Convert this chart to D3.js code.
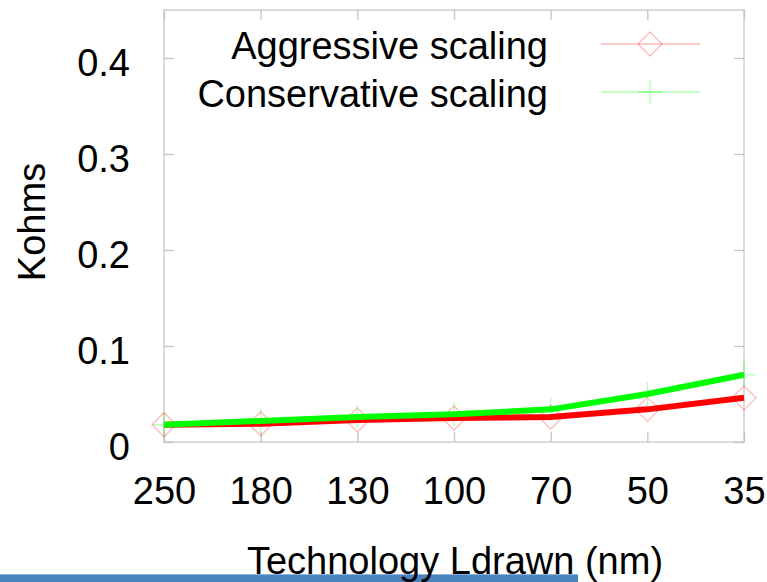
<!DOCTYPE html>
<html>
<head>
<meta charset="utf-8">
<script src="https://cdn.jsdelivr.net/npm/d3@7"></script>
<style>
  html, body { margin: 0; padding: 0; background: #ffffff; }
  svg { display: block; font-family: "Liberation Sans", Arial, sans-serif; }
</style>
</head>
<body>
<svg id="chart" width="767" height="582"></svg>
<script>
// Technology nodes (nm) along the x axis
const techNodes = ["250", "180", "130", "100", "70", "50", "35"];
// Resistance in Kohms for each scaling scenario
const aggressive = [0.018, 0.019, 0.023, 0.025, 0.026, 0.034, 0.046];
const conservative = [0.018, 0.022, 0.026, 0.029, 0.034, 0.050, 0.070];
const yTicks = [0, 0.1, 0.2, 0.3, 0.4];
const seriesNames = ["Aggressive scaling", "Conservative scaling"];

const svg = d3.select("#chart");
const W = 767, H = 582;
const plotL = 164, plotR = 744, plotT = 10, plotB = 442;
const fontSize = 38;

svg.append("rect").attr("width", W).attr("height", H).attr("fill", "#ffffff");

const x = d3.scalePoint().domain(techNodes).range([plotL, plotR]).padding(0);
const y = d3.scaleLinear().domain([0, 0.45]).range([plotB, plotT]);

const frameColor = "#c4c4c4";

// Plot frame
svg.append("rect")
  .attr("x", plotL).attr("y", plotT)
  .attr("width", plotR - plotL).attr("height", plotB - plotT)
  .attr("fill", "none").attr("stroke", "#d2d2d2").attr("stroke-width", 1.6);

function styleAxis(g, showLabels) {
  g.select(".domain").remove();
  g.selectAll(".tick line").attr("stroke", frameColor).attr("stroke-width", 1.3);
  if (!showLabels) g.selectAll(".tick text").remove();
  g.selectAll(".tick text")
    .attr("fill", "#000").attr("font-size", fontSize)
    .attr("font-family", "'Liberation Sans', Arial, sans-serif");
}

// Left axis with labels, inward ticks
const gLeft = svg.append("g").attr("transform", `translate(${plotL},0)`)
  .call(d3.axisLeft(y).tickValues(yTicks).tickSizeInner(-10).tickSizeOuter(0)
    .tickPadding(34).tickFormat(d => d === 0 ? "0" : d3.format(".1f")(d)));
styleAxis(gLeft, true);
gLeft.selectAll(".tick text").attr("dy", "0.45em");

// Right mirror ticks
const gRight = svg.append("g").attr("transform", `translate(${plotR},0)`)
  .call(d3.axisRight(y).tickValues(yTicks).tickSizeInner(-10).tickSizeOuter(0));
styleAxis(gRight, false);

// Bottom axis with labels
const gBottom = svg.append("g").attr("transform", `translate(0,${plotB})`)
  .call(d3.axisBottom(x).tickSizeInner(-10).tickSizeOuter(0).tickPadding(35));
styleAxis(gBottom, true);

// Top mirror ticks
const gTop = svg.append("g").attr("transform", `translate(0,${plotT})`)
  .call(d3.axisTop(x).tickSizeInner(-10).tickSizeOuter(0));
styleAxis(gTop, false);

const lineGen = d3.line().x((d, i) => x(techNodes[i])).y(d => y(d));

// Faint point series (thin line + markers)
const faintRed = "rgba(255,0,0,0.28)";
const faintGreen = "rgba(0,255,0,0.3)";
const mk = 12;

function diamond(g, cx, cy) {
  g.append("path")
    .attr("d", `M${cx},${cy - mk}L${cx + mk},${cy}L${cx},${cy + mk}L${cx - mk},${cy}Z`)
    .attr("fill", "none").attr("stroke", faintRed).attr("stroke-width", 1.3);
}
function plus(g, cx, cy) {
  g.append("path")
    .attr("d", `M${cx - mk},${cy}H${cx + mk}M${cx},${cy - mk}V${cy + mk}`)
    .attr("fill", "none").attr("stroke", faintGreen).attr("stroke-width", 1.3);
}

const gFaint = svg.append("g");
gFaint.append("path").datum(aggressive).attr("d", lineGen)
  .attr("fill", "none").attr("stroke", faintRed).attr("stroke-width", 1.3);
gFaint.append("path").datum(conservative).attr("d", lineGen)
  .attr("fill", "none").attr("stroke", faintGreen).attr("stroke-width", 1.3);
aggressive.forEach((v, i) => diamond(gFaint, x(techNodes[i]), y(v)));
conservative.forEach((v, i) => plus(gFaint, x(techNodes[i]), y(v)));

// Thick trend lines
svg.append("path").datum(aggressive).attr("d", lineGen)
  .attr("fill", "none").attr("stroke", "#ff0000").attr("stroke-width", 6)
  .attr("stroke-linejoin", "round");
svg.append("path").datum(conservative).attr("d", lineGen)
  .attr("fill", "none").attr("stroke", "#00ff00").attr("stroke-width", 6)
  .attr("stroke-linejoin", "round");

// Legend
const legend = svg.append("g");
const legY = [44, 92];
const lx0 = 601, lx1 = 700, lcx = 650;
seriesNames.forEach((name, i) => {
  legend.append("text")
    .attr("x", 548).attr("y", legY[i] + 15)
    .attr("text-anchor", "end").attr("font-size", fontSize).attr("fill", "#000")
    .text(name);
  legend.append("line")
    .attr("x1", lx0).attr("x2", lx1).attr("y1", legY[i]).attr("y2", legY[i])
    .attr("stroke", i === 0 ? faintRed : faintGreen).attr("stroke-width", 1.5);
  if (i === 0) diamond(legend, lcx, legY[i]); else plus(legend, lcx, legY[i]);
});

// Axis titles
svg.append("text")
  .attr("transform", "translate(45,222) rotate(-90)")
  .attr("text-anchor", "middle").attr("font-size", fontSize).attr("fill", "#000")
  .text("Kohms");

// Bottom accent bar
svg.append("rect").attr("x", 0).attr("y", 574).attr("width", 578).attr("height", 8)
  .attr("fill", "#4a84c0");
svg.append("line").attr("x1", 0).attr("x2", 578).attr("y1", 574.5).attr("y2", 574.5)
  .attr("stroke", "#8fb3da").attr("stroke-width", 1);

svg.append("text")
  .attr("x", 455).attr("y", 574)
  .attr("text-anchor", "middle").attr("font-size", fontSize).attr("fill", "#000")
  .text("Technology Ldrawn (nm)");
</script>
</body>
</html>
